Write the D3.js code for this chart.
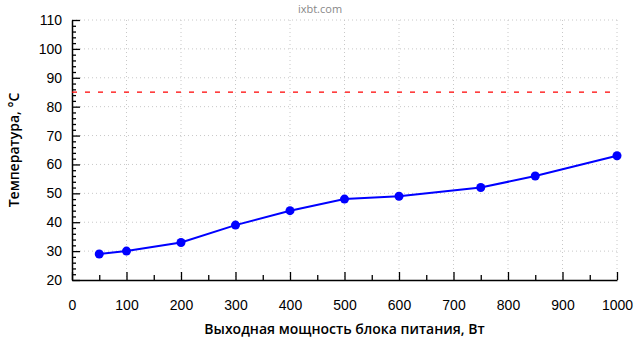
<!DOCTYPE html>
<html lang="ru">
<head>
  <meta charset="UTF-8">
  <title>ixbt.com</title>
  <script src="https://d3js.org/d3.v7.min.js"></script>
  <style>
    html, body { margin: 0; padding: 0; background: #fff; }
    svg { display: block; font-family: 'Open Sans', 'DejaVu Sans', sans-serif; }
  </style>
</head>
<body>
<svg width="640" height="360"></svg>
<script>
  // значения с графика
  const power = [50, 100, 200, 300, 400, 500, 600, 750, 850, 1000];
  const temperature = [29, 30, 33, 39, 44, 48, 49, 52, 56, 63];
  const limitTemp = 85;
  const xTicks = [0, 100, 200, 300, 400, 500, 600, 700, 800, 900, 1000];
  const yTicks = [20, 30, 40, 50, 60, 70, 80, 90, 100, 110];

  const svg = d3.select("svg");
  const margin = { top: 20, right: 23, bottom: 80, left: 72 };
  const w = 640 - margin.left - margin.right;
  const h = 360 - margin.top - margin.bottom;

  const x = d3.scaleLinear().domain([0, 1000]).range([0, w]);
  const y = d3.scaleLinear().domain([20, 110]).range([h, 0]);

  svg.append("text").attr("x", 320).attr("y", 13).attr("text-anchor", "middle")
    .attr("font-size", 11).attr("fill", "#888").text("ixbt.com");

  const g = svg.append("g").attr("transform", `translate(${margin.left},${margin.top})`);

  // сетка
  g.append("g").selectAll("line").data(yTicks.slice(1)).join("line")
    .attr("x1", 0).attr("x2", w).attr("y1", d => y(d)).attr("y2", d => y(d))
    .attr("stroke", "#c8c8c8").attr("stroke-dasharray", "1,3");
  g.append("g").selectAll("line").data(xTicks.slice(1)).join("line")
    .attr("y1", 0).attr("y2", h).attr("x1", d => x(d)).attr("x2", d => x(d))
    .attr("stroke", "#c8c8c8").attr("stroke-dasharray", "1,3");

  // оси (засечки внутрь)
  const xMinor = d3.range(50, 1000, 100);
  const yMinor = d3.range(22, 110, 2).filter(v => v % 10 !== 0);

  g.append("g").attr("transform", `translate(0,${h})`)
    .call(d3.axisBottom(x).tickValues(xTicks).tickFormat(d3.format("d"))
      .tickSizeInner(-8).tickSizeOuter(0).tickPadding(20));
  g.append("g").attr("transform", `translate(0,${h})`)
    .call(d3.axisBottom(x).tickValues(xMinor).tickSize(-5).tickFormat(""))
    .select(".domain").remove();
  g.append("g")
    .call(d3.axisLeft(y).tickValues(yTicks).tickFormat(d3.format("d"))
      .tickSizeInner(-8).tickSizeOuter(0).tickPadding(10));
  g.append("g")
    .call(d3.axisLeft(y).tickValues(yMinor).tickSize(-4).tickFormat(""))
    .select(".domain").remove();

  g.selectAll(".domain").attr("stroke", "#000").attr("stroke-width", 1.5);
  g.selectAll(".tick line").attr("stroke", "#000").attr("stroke-width", 1.3);
  g.selectAll(".tick text").attr("font-size", 14).attr("fill", "#000");

  // предел
  g.append("line").attr("x1", 0).attr("x2", w).attr("y1", y(limitTemp)).attr("y2", y(limitTemp))
    .attr("stroke", "#ff0000").attr("stroke-width", 1.2).attr("stroke-dasharray", "5,8");

  const data = power.map((p, i) => ({ p, t: temperature[i] }));
  g.append("path").datum(data)
    .attr("fill", "none").attr("stroke", "#0000ff").attr("stroke-width", 2)
    .attr("d", d3.line().x(d => x(d.p)).y(d => y(d.t)));
  g.selectAll("circle.pt").data(data).join("circle").attr("class", "pt")
    .attr("cx", d => x(d.p)).attr("cy", d => y(d.t)).attr("r", 4.5).attr("fill", "#0000ff");

  // подписи осей
  svg.append("text").attr("x", margin.left + w / 2).attr("y", 334).attr("text-anchor", "middle")
    .attr("font-size", 14).attr("font-weight", 600).text("Выходная мощность блока питания, Вт");
  svg.append("text").attr("transform", `translate(19,${margin.top + h / 2}) rotate(-90)`)
    .attr("text-anchor", "middle").attr("font-size", 14).attr("font-weight", 600)
    .text("Температура, °С");
</script>
</body>
</html>
